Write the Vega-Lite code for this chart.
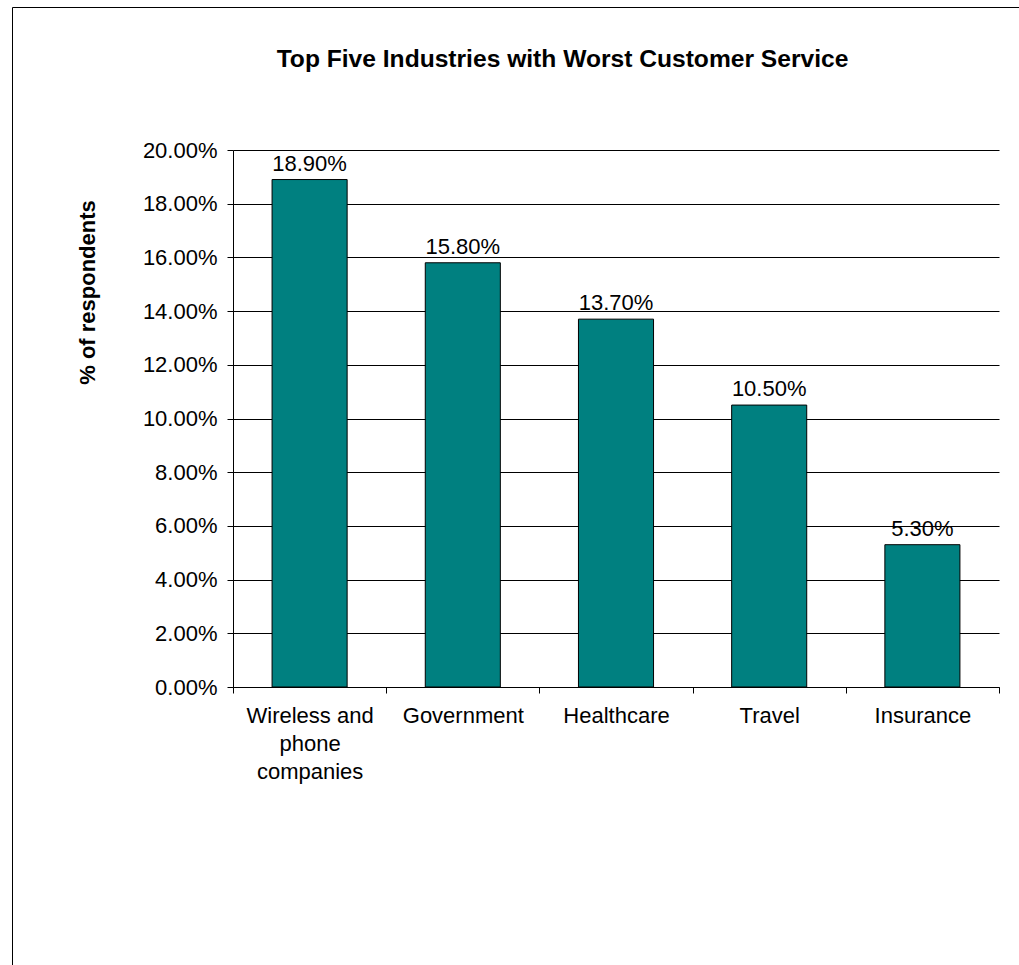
{
  "$schema": "https://vega.github.io/schema/vega-lite/v6.json",
  "width": 1017,
  "height": 968,
  "autosize": {"type": "none"},
  "padding": {"left": 12, "top": 7, "right": -10, "bottom": -10},
  "background": "white",
  "title": {
    "text": "Top Five Industries with Worst Customer Service",
    "fontSize": 24.6,
    "fontWeight": "bold",
    "font": "Liberation Sans",
    "color": "black",
    "frame": "group",
    "anchor": "middle",
    "baseline": "alphabetic",
    "offset": -85,
    "dx": 42
  },
  "config": {
    "view": {"stroke": "black", "strokeWidth": 1},
    "font": "Liberation Sans"
  },
  "data": {
    "values": [
      {"industry": "Wireless and phone companies", "pct": 0.189},
      {"industry": "Government", "pct": 0.158},
      {"industry": "Healthcare", "pct": 0.137},
      {"industry": "Travel", "pct": 0.105},
      {"industry": "Insurance", "pct": 0.053}
    ]
  },
  "encoding": {
    "x": {
      "field": "industry",
      "type": "nominal",
      "sort": null,
      "scale": {"range": [221, 987], "paddingInner": 0, "paddingOuter": 0},
      "axis": {
        "title": null,
        "labelAngle": 0,
        "labelFontSize": 22,
        "labelFont": "Liberation Sans",
        "labelColor": "black",
        "labelPadding": 12,
        "labelBaseline": "top",
        "labelLineHeight": 28,
        "labelExpr": "datum.value == 'Wireless and phone companies' ? ['Wireless and', 'phone', 'companies'] : datum.value",
        "tickSize": 6,
        "tickColor": "black",
        "domainColor": "black",
        "tickBand": "extent",
        "offset": -288,
        "grid": false,
        "zindex": 0
      }
    },
    "y": {
      "field": "pct",
      "type": "quantitative",
      "scale": {"domain": [0, 0.2], "range": [680, 143]},
      "axis": {
        "values": [0, 0.02, 0.04, 0.06, 0.08, 0.1, 0.12, 0.14, 0.16, 0.18, 0.2],
        "format": ".2%",
        "offset": -221,
        "title": "% of respondents",
        "titleFontSize": 22,
        "titleFont": "Liberation Sans",
        "titleFontWeight": "bold",
        "titleColor": "black",
        "titlePadding": 43,
        "titleY": 285,
        "labelFontSize": 22,
        "labelFont": "Liberation Sans",
        "labelColor": "black",
        "labelPadding": 10,
        "labelFlush": false,
        "labelOverlap": false,
        "tickSize": 6,
        "tickColor": "black",
        "domainColor": "black",
        "grid": true,
        "gridColor": "black",
        "gridOpacity": 1,
        "zindex": 0
      }
    }
  },
  "layer": [
    {
      "mark": {"type": "bar", "fill": "#008080", "stroke": "black", "strokeWidth": 1, "width": {"band": 0.49}}
    },
    {
      "mark": {"type": "text", "baseline": "alphabetic", "dy": -9, "fontSize": 22, "font": "Liberation Sans", "color": "black"},
      "encoding": {"text": {"field": "pct", "type": "quantitative", "format": ".2%"}}
    }
  ]
}
